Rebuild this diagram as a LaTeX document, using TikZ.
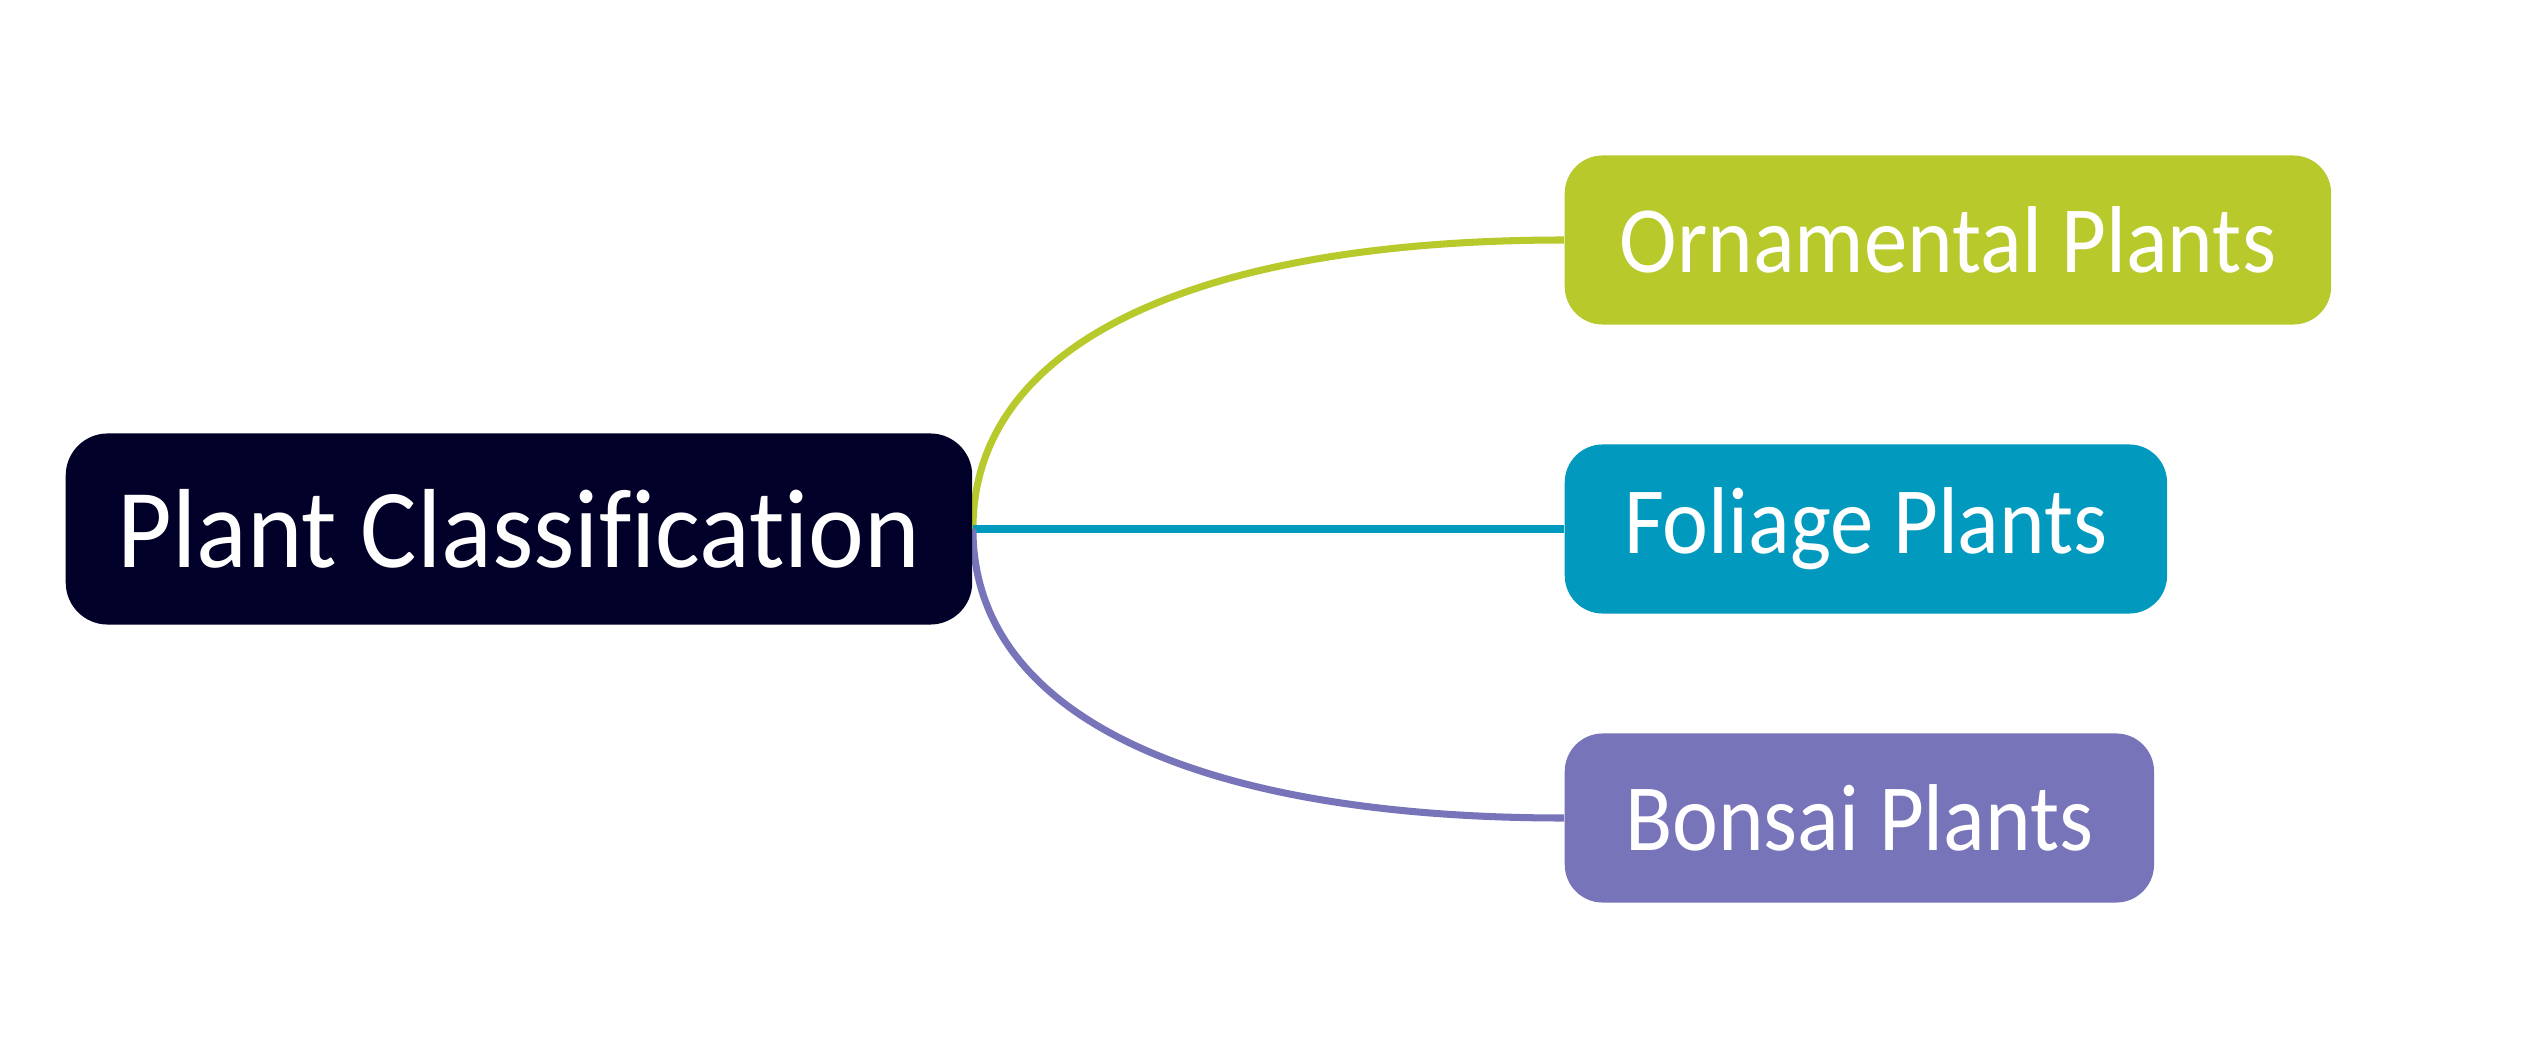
\documentclass[tikz,border=0pt]{standalone}
\usepackage{fontspec}
\setmainfont{Carlito}[FakeStretch=0.94, Ligatures=NoCommon]
\newfontfamily\leaffont{Carlito}[FakeStretch=0.915, Ligatures=NoCommon]
\usetikzlibrary{backgrounds}
\definecolor{rootnavy}{HTML}{000028}
\definecolor{leafgreen}{HTML}{B8C92B}
\definecolor{leafblue}{HTML}{0299BE}
\definecolor{leafpurple}{HTML}{7774BA}
\begin{document}
\begin{tikzpicture}[x=0.01cm,y=-0.01cm,
  rootbox/.style={rounded corners=0.42cm, fill=rootnavy, text=white, anchor=west,
    minimum width=9.06cm, minimum height=1.91cm, inner sep=0pt,
    font=\fontsize{32}{36}\selectfont},
  leafbox/.style={rounded corners=0.38cm, fill=#1, text=white, anchor=west,
    minimum height=1.69cm, inner sep=0pt, font=\leaffont\fontsize{27}{32}\selectfont},
  branch/.style={draw=#1, line width=2pt}]
\useasboundingbox (0,0) rectangle (2546,1040);

\node[rootbox] (root) at (65,529) {Plant Classification};
\node[leafbox=leafgreen, minimum width=7.66cm] (orn) at (1564,240) {Ornamental Plants};
\node[leafbox=leafblue, minimum width=6.02cm] (fol) at (1564,529) {Foliage Plants};
\node[leafbox=leafpurple, minimum width=5.89cm] (bon) at (1564,818) {Bonsai Plants};

\begin{pgfonlayer}{background}
  \fill[white] (0,0) rectangle (2546,1040);
  \draw[branch=leafgreen] (root.east) .. controls +(0,-190) and +(-360,0) .. (orn.west);
  \draw[branch=leafblue] (root.east) -- (fol.west);
  \draw[branch=leafpurple] (root.east) .. controls +(0,190) and +(-360,0) .. (bon.west);
\end{pgfonlayer}
\end{tikzpicture}
\end{document}
